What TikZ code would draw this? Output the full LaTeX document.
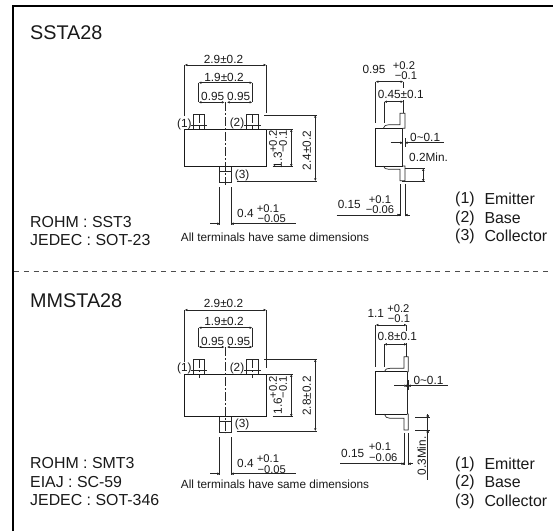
\documentclass[tikz,border=0pt]{standalone}
\usepackage{fontspec}
\setmainfont{Liberation Sans}
\usetikzlibrary{arrows.meta}
\tikzset{
 x=1pt,y=-1pt,
 ln/.style={line width=0.7pt,black!85},
 dim/.style={line width=0.7pt,black!85,{Latex[length=2.6pt,width=2.6pt]}-{Latex[length=2.6pt,width=2.6pt]}},
 ctr/.style={line width=0.6pt,black!85,dash pattern=on 9pt off 2pt on 2pt off 2pt},
 big/.style={inner sep=0,anchor=west,font=\fontsize{19.8}{20}\selectfont,black!90},
 lab/.style={inner sep=0,anchor=west,font=\fontsize{15.9}{16}\selectfont,black!90},
 sm/.style={inner sep=0,font=\fontsize{11.8}{12}\selectfont,black!90},
 tol/.style={inner sep=0,font=\fontsize{11.2}{12}\selectfont,black!90},
}
\begin{document}
\begin{tikzpicture}
\useasboundingbox (0,0) rectangle (553,531);
% frame and separator
\coordinate (fa) at (13,531); \coordinate (fb) at (13,6); \coordinate (fc) at (553,6);
\draw[line width=2.6pt,black,line join=miter] (fa) -- (fb) -- (fc);
\coordinate (sa) at (14,271.7); \coordinate (sb) at (553,271.7);
\draw[line width=0.7pt,black!70,dash pattern=on 5pt off 4.8pt] (sa) -- (sb);
% left texts
\node[big] (t1) at (30,32.7) {SSTA28};
\node[lab] (r1) at (30,221.7) {ROHM : SST3};
\node[lab] (j1) at (30,240) {JEDEC : SOT-23};
\node[big] (t2) at (30,300.7) {MMSTA28};
\node[lab] (r2) at (30,463.3) {ROHM : SMT3};
\node[lab] (e2) at (30,481.7) {EIAJ : SC-59};
\node[lab] (j2) at (30,500) {JEDEC : SOT-346};
% legends
\node[lab] (p1a) at (455,199.3) {(1)}; \node[lab] (p1b) at (484.3,199.3) {Emitter};
\node[lab] (p2a) at (455,218.3) {(2)}; \node[lab] (p2b) at (484.3,218.3) {Base};
\node[lab] (p3a) at (455,236) {(3)};   \node[lab] (p3b) at (484.3,236) {Collector};
\node[lab] (q1a) at (455,464) {(1)}; \node[lab] (q1b) at (484.3,464) {Emitter};
\node[lab] (q2a) at (455,482.3) {(2)}; \node[lab] (q2b) at (484.3,482.3) {Base};
\node[lab] (q3a) at (455,501) {(3)};   \node[lab] (q3b) at (484.3,501) {Collector};

% ===== SSTA28 top view =====
\draw[ln] (193.3,129.3) -- (193.3,114) -- (204.7,114) -- (204.7,129.3);
\draw[ln] (246.7,129.3) -- (246.7,114) -- (258,114) -- (258,129.3);
\draw[ln] (190.7,125.7) -- (207,125.7) (244,125.7) -- (260.5,125.7);
\draw[ln] (199,129.3)--(199,125.7) (252.3,129.3)--(252.3,125.7);
\draw[ctr] (199,114) -- (199,125.7); \draw[ctr] (252.3,114) -- (252.3,125.7);
\draw[line width=0.8pt,black!90] (184.7,129.3) rectangle (266.3,166.7);
\draw[ln] (219.7,166.7) -- (219.7,182.7) -- (231.3,182.7) -- (231.3,166.7);
\draw[ln] (219.7,171.7) -- (231.3,171.7);
\draw[ctr] (225.7,102.3) -- (225.7,185);
% dims
\draw[dim] (184.7,65) -- (266.3,65);
\draw[ln] (184.7,65) -- (184.7,116) (266.3,65) -- (266.3,113);
\draw[dim] (198.7,82.7) -- (252.3,82.7);
\draw[ln] (198.7,82.7) -- (198.7,102.3) (252.3,82.7) -- (252.3,102.3);
\draw[dim] (198.7,102.3) -- (224.5,102.3); \draw[dim] (227,102.3) -- (252.3,102.3);
\draw[dim] (291.3,129.3) -- (291.3,166.7);
\draw[ln] (266.3,129.3) -- (292.7,129.3) (272.7,166.7) -- (292.7,166.7);
\draw[dim] (315.3,115) -- (315.3,181);
\draw[ln] (264,115) -- (317,115) (236.7,181) -- (317,181);
\draw[ln] (219.7,187.3) -- (219.7,225) (231.3,187.3) -- (231.3,225);
\draw[ln] (210,223.7) -- (218,223.7) (233,223.7) -- (295.7,223.7);
\draw[dim] (217,223.7) -- (219.7,223.7); \draw[dim] (231.3,223.7) -- (234,223.7);
% texts
\node[sm] (a1) at (223.5,59) {2.9±0.2};
\node[sm] (a2) at (224,77) {1.9±0.2};
\node[sm] (a3) at (212.7,96) {0.95};
\node[sm] (a4) at (238.7,96) {0.95};
\node[sm,anchor=east] (a5) at (191.7,124) {(1)};
\node[sm] (a6) at (237,123) {(2)};
\node[sm,anchor=west] (a7) at (234.7,175) {(3)};
\node[sm,rotate=90] (a8) at (306.7,150.7) {2.4±0.2};
\node[sm,rotate=90] (a9) at (277.7,160) {1.3};
\node[tol,rotate=90] (a10) at (273,141.7) {+0.2};
\node[tol,rotate=90] (a11) at (283,141.7) {−0.1};
\node[sm,anchor=west] (a12) at (237,213) {0.4};
\node[tol] (a13) at (268,208.6) {+0.1};
\node[tol] (a14) at (271.7,219) {−0.05};
\node[sm,anchor=west] (a15) at (180.7,237.3) {All terminals have same dimensions};

% ===== SSTA28 side view =====
\draw[line width=0.8pt,black!90] (402.7,128.3) -- (375.7,128.3) -- (375.7,166) -- (402.7,166);
\draw[ln] (402.7,128.3) -- (402.7,166);
\draw[ln] (383.3,128.3) .. controls (384,125.5) and (386,124.7) .. (389,124.7) -- (400,124.7) -- (400,113.3) -- (405,113.3) -- (405,128.3) -- (402.7,128.3);
\draw[ln] (383.3,166) .. controls (384,168.5) and (386,169.3) .. (389,169.3) -- (400,169.3) -- (400,180.7) -- (405,180.7) -- (405,166) -- (402.7,166);
\draw[dim] (375.7,81.7) -- (403.3,81.7);
\draw[ln] (375.7,81.7) -- (375.7,122.7) (403.3,81.7) -- (403.3,88) (403.3,100) -- (403.3,113);
\draw[dim] (384.3,101.7) -- (403.3,101.7);
\draw[ln] (384.3,101.7) -- (384.3,122.7);
\draw[ln] (390.7,142.7) -- (400,142.7) (407,142.7) -- (444.3,142.7);
\draw[dim] (400,142.7) -- (402.7,142.7); \draw[dim] (405,142.7) -- (407.7,142.7);
\draw[ln] (402.7,138) -- (402.7,146.7) (405,138) -- (405,146.7);
\draw[dim] (423.3,168.3) -- (423.3,181.7);
\draw[ln] (405,168.3) -- (425,168.3) (402,181.7) -- (425,181.7);
\draw[ln] (400,184) -- (400,216) (405,184) -- (405,216);
\draw[ln] (336.7,215) -- (398,215) (407,215) -- (410,215);
\draw[dim] (397.3,215) -- (400,215); \draw[dim] (405,215) -- (407.7,215);
\node[sm] (b1) at (374,69) {0.95};
\node[tol] (b2) at (404,65.6) {+0.2};
\node[tol] (b3) at (406,76) {−0.1};
\node[sm] (b4) at (400.7,94) {0.45±0.1};
\node[sm,anchor=west] (b5) at (410,137) {0\char"7E 0.1};
\node[sm,anchor=west] (b6) at (409,157) {0.2Min.};
\node[sm] (b7) at (349.3,204) {0.15};
\node[tol] (b8) at (380,199.4) {+0.1};
\node[tol] (b9) at (380,209.6) {−0.06};

% ===== MMSTA28 top view =====
\draw[ln] (193.3,374.3) -- (193.3,359.3) -- (204.7,359.3) -- (204.7,374.3);
\draw[ln] (246.7,374.3) -- (246.7,359.3) -- (258,359.3) -- (258,374.3);
\draw[ln] (190.7,370) -- (207,370) (244,370) -- (260.5,370);
\draw[ctr] (199,359.3) -- (199,378); \draw[ctr] (252.3,359.3) -- (252.3,378);
\draw[line width=0.8pt,black!90] (184.7,374.3) rectangle (266.3,416.7);
\draw[ln] (219.7,416.7) -- (219.7,432.7) -- (231.3,432.7) -- (231.3,416.7);
\draw[ln] (219.7,421.7) -- (231.3,421.7);
\draw[ctr] (225.7,347) -- (225.7,433);
\draw[dim] (184.7,310) -- (266.3,310);
\draw[ln] (184.7,310) -- (184.7,361.7) (266.3,310) -- (266.3,368);
\draw[dim] (198.7,327.7) -- (252.3,327.7);
\draw[ln] (198.7,327.7) -- (198.7,347) (252.3,327.7) -- (252.3,347);
\draw[dim] (198.7,347) -- (224.5,347); \draw[dim] (227,347) -- (252.3,347);
\draw[dim] (291.3,374.3) -- (291.3,416.7);
\draw[ln] (266.3,374.3) -- (292.7,374.3) (272.7,416.7) -- (292.7,416.7);
\draw[dim] (315.3,359.3) -- (315.3,431);
\draw[ln] (264,359.3) -- (317,359.3) (236.7,431) -- (317,431);
\draw[ln] (219.7,437.3) -- (219.7,475) (231.3,437.3) -- (231.3,475);
\draw[ln] (210,473.7) -- (218,473.7) (233,473.7) -- (295.7,473.7);
\draw[dim] (217,473.7) -- (219.7,473.7); \draw[dim] (231.3,473.7) -- (234,473.7);
\node[sm] (c1) at (223.5,303.3) {2.9±0.2};
\node[sm] (c2) at (224,321.7) {1.9±0.2};
\node[sm] (c3) at (212.7,341) {0.95};
\node[sm] (c4) at (238.7,341) {0.95};
\node[sm,anchor=east] (c5) at (191.7,368.3) {(1)};
\node[sm] (c6) at (237,368) {(2)};
\node[sm,anchor=west] (c7) at (234.7,424.3) {(3)};
\node[sm,rotate=90] (c8) at (306.7,396) {2.8±0.2};
\node[sm,rotate=90] (c9) at (277.7,406) {1.6};
\node[tol,rotate=90] (c10) at (273,387.3) {+0.2};
\node[tol,rotate=90] (c11) at (283,387.3) {−0.1};
\node[sm,anchor=west] (c12) at (237,463.3) {0.4};
\node[tol] (c13) at (268,458.9) {+0.1};
\node[tol] (c14) at (271.7,469.3) {−0.05};
\node[sm,anchor=west] (c15) at (180.7,484.7) {All terminals have same dimensions};

% ===== MMSTA28 side view =====
\draw[line width=0.8pt,black!90] (407,371.7) -- (375.7,371.7) -- (375.7,414) -- (407,414);
\draw[ln] (407,371.7) -- (407,414);
\draw[ln] (384.3,371.7) .. controls (385,369) and (387,368.3) .. (390,368.3) -- (404,368.3) -- (404,356.7) -- (408.3,356.7) -- (408.3,371.7) -- (407,371.7);
\draw[ln] (384.3,414) .. controls (385,417) and (387,418.3) .. (390,418.3) -- (404,418.3) -- (404,430) -- (408.3,430) -- (408.3,414) -- (407,414);
\draw[dim] (375.7,325) -- (406.7,325);
\draw[ln] (375.7,325) -- (375.7,366.7) (406.7,325) -- (406.7,331) (406.7,343) -- (406.7,356.7);
\draw[dim] (384.3,344.3) -- (406.7,344.3);
\draw[ln] (384.3,344.3) -- (384.3,366.7);
\draw[ln] (394,385.7) -- (404.3,385.7) (411,385.7) -- (448.3,385.7);
\draw[dim] (404.3,385.7) -- (407,385.7); \draw[dim] (408.3,385.7) -- (411,385.7);
\draw[ln] (408.3,380) -- (408.3,390);
\draw[ln] (427.7,414) -- (427.7,480);
\draw[dim] (427.7,417.7) -- (427.7,414.5); \draw[dim] (427.7,430.3) -- (427.7,433.5);
\draw[ln] (415,417.7) -- (430,417.7) (415,430.3) -- (430,430.3);
\draw[ln] (404,433.3) -- (404,465) (408.3,433.3) -- (408.3,465);
\draw[ln] (340,463.7) -- (402,463.7) (410,463.7) -- (413.3,463.7);
\draw[dim] (401.3,463.7) -- (404,463.7); \draw[dim] (408.3,463.7) -- (411,463.7);
\node[sm] (d1) at (375.7,313.3) {1.1};
\node[tol] (d2) at (398.3,308.6) {+0.2};
\node[tol] (d3) at (399,318.8) {−0.1};
\node[sm] (d4) at (397.3,336.3) {0.8±0.1};
\node[sm,anchor=west] (d5) at (413.3,380.7) {0\char"7E 0.1};
\node[sm,rotate=90] (d6) at (421.7,456) {0.3Min.};
\node[sm] (d7) at (352.7,453.3) {0.15};
\node[tol] (d8) at (380,447) {+0.1};
\node[tol] (d9) at (383.3,457.3) {−0.06};
\end{tikzpicture}
\end{document}
